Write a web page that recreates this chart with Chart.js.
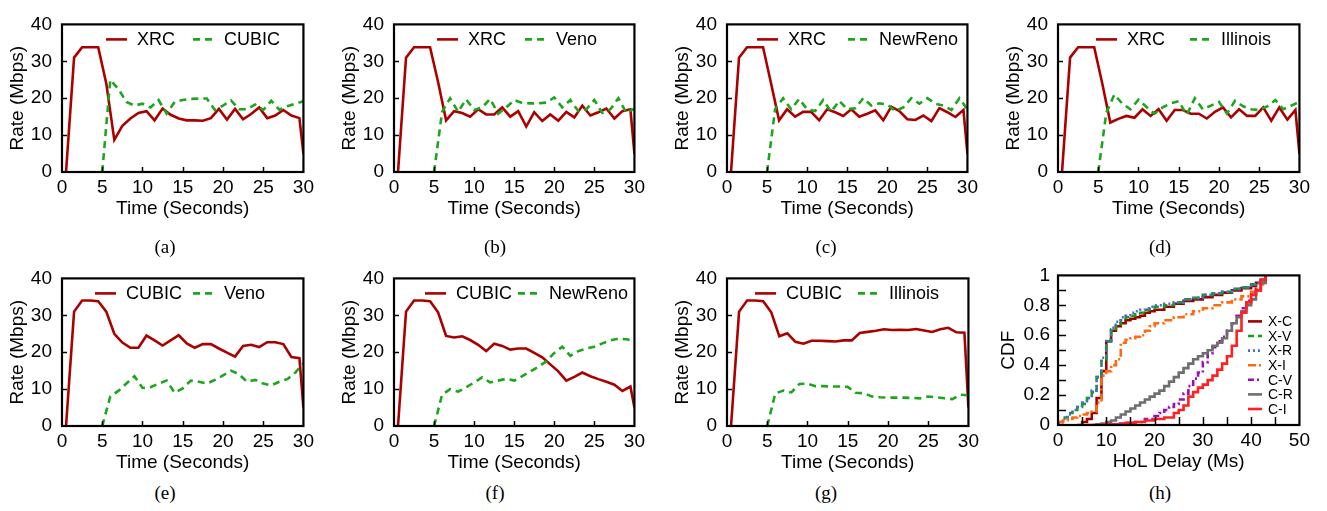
<!DOCTYPE html>
<html>
<head>
<meta charset="utf-8">
<script src="https://cdn.jsdelivr.net/npm/chart.js@4.4.1/dist/chart.umd.min.js"></script>
<style>
    body { margin: 0; background: #fff; width: 1327px; height: 511px; position: relative; overflow: hidden; }
    canvas { position: absolute; }
    .cap { position: absolute; font-family: "Liberation Serif", "Times New Roman", serif; font-size: 19px; line-height: 19px; transform: translateX(-50%); color: #000; }
</style>
</head>
<body>
<canvas id="pa"></canvas>
<canvas id="pb"></canvas>
<canvas id="pc"></canvas>
<canvas id="pd"></canvas>
<canvas id="pe"></canvas>
<canvas id="pf"></canvas>
<canvas id="pg"></canvas>
<canvas id="ph"></canvas>
<div class="cap" style="left:165px;top:237px">(a)</div>
<div class="cap" style="left:495px;top:237px">(b)</div>
<div class="cap" style="left:826px;top:237px">(c)</div>
<div class="cap" style="left:1160px;top:237px">(d)</div>
<div class="cap" style="left:165px;top:483px">(e)</div>
<div class="cap" style="left:495px;top:483px">(f)</div>
<div class="cap" style="left:826px;top:483px">(g)</div>
<div class="cap" style="left:1160px;top:483px">(h)</div>
<script>
// sample times (seconds) of the first flow and of the flow that joins at 5 s
const timeFirst = [0.5, 1.5, 2.5, 3.5, 4.5, 5.5, 6.5, 7.5, 8.5, 9.5, 10.5, 11.5, 12.5, 13.5, 14.5, 15.5,
    16.5, 17.5, 18.5, 19.5, 20.5, 21.5, 22.5, 23.5, 24.5, 25.5, 26.5, 27.5, 28.5, 29.5, 30];
const timeSecond = [5, 6, 7, 8, 9, 10, 11, 12, 13, 14, 15, 16, 17, 18, 19, 20, 21, 22, 23, 24, 25,
    26, 27, 28, 29, 30];

// (a) XRC vs CUBIC
const xrcA = [0, 31, 33.8, 33.8, 33.8, 24, 8.7, 12.5, 14.5, 16, 16.5, 14, 17.2, 15.5, 14.5, 14, 14, 13.9, 14.6, 17.1, 14.2, 17.1, 14.3, 15.7, 17.5, 14.6, 15.3, 16.8, 15.3, 14.6, 5];
const cubicA = [0, 25, 22.5, 19, 18, 18.5, 17.5, 19.5, 15.8, 19, 19.5, 19.8, 19.9, 19.9, 16.8, 18, 19.4, 17, 17, 18.3, 16.8, 19.3, 16.9, 17.8, 18.5, 19.2];
// (b) XRC vs Veno
const xrcB = [0, 31, 33.8, 33.8, 33.8, 24.4, 14, 16.5, 16, 15, 17, 15.6, 15.6, 17.5, 15, 16.5, 12.3, 16.2, 13.8, 15.6, 13.9, 16.3, 14.8, 18, 15.3, 16.2, 17.2, 14.5, 16.5, 17, 5];
const venoB = [0, 16.3, 20, 16.3, 19.7, 16.8, 17.5, 19.8, 15.8, 17.5, 19.5, 18.7, 18.6, 18.6, 18.8, 20.2, 17.5, 19.5, 16.5, 17, 19.5, 16, 17, 20, 16, 17.2];
// (c) XRC vs NewReno
const xrcC = [0, 31, 33.8, 33.8, 33.8, 24, 14, 17, 15, 16.3, 16.3, 14, 17, 16.2, 15.2, 17, 15, 15.8, 16.7, 14, 17.7, 16.5, 14.3, 14.1, 15.3, 13.8, 17.3, 16.2, 14.9, 16.8, 5];
const renoC = [0, 17, 20, 17, 19.8, 17, 16.5, 19.5, 16.3, 19.3, 17, 17.3, 20, 18, 18.6, 18.3, 16.5, 17.5, 20, 18.5, 20, 18.5, 18, 16.8, 20, 17];
// (d) XRC vs Illinois
const xrcD = [0, 31, 33.8, 33.8, 33.8, 24, 13.4, 14.4, 15.2, 14.7, 17, 15.2, 17, 13.9, 16.8, 16.8, 15.8, 15.8, 14.5, 16.3, 17.5, 14.8, 17, 15.2, 15.2, 17.5, 13.9, 17.5, 14.2, 16.8, 5];
const illinoisD = [0, 16, 21, 18.5, 17, 19.6, 17.6, 15.8, 17.5, 18.6, 19.2, 15.5, 20, 17, 18, 19, 15.8, 19.3, 17.8, 17, 16.8, 17.8, 19.5, 17, 18, 19];
// (e) CUBIC vs Veno
const cubicE = [0, 31, 34, 34, 33.8, 31, 25, 22.6, 21.2, 21.2, 24.5, 23.2, 21.8, 23.2, 24.6, 22.4, 21.2, 22.2, 22.2, 21, 19.9, 18.8, 21.7, 22, 21.4, 22.7, 22.7, 22.2, 18.7, 18.4, 5];
const venoE = [0, 8, 9.5, 11.5, 13.5, 10.3, 10.5, 11.5, 12.3, 9, 10.2, 12.3, 12, 11.5, 12.5, 13.7, 15, 14, 12, 12.5, 11.5, 11, 12, 12.7, 14.5, 17];
// (f) CUBIC vs NewReno
const cubicF = [0, 31, 34, 34, 33.8, 30.8, 24.4, 24, 24.3, 23.3, 22, 20.3, 22.3, 21.7, 20.7, 21, 21, 19.8, 18.6, 16.7, 14.8, 12.3, 13.3, 14.5, 13.5, 12.7, 12, 11.2, 9.5, 10.7, 5];
const renoF = [0, 8.5, 10, 9.3, 10.5, 11.8, 13.2, 11.8, 12.3, 12.8, 12.3, 13.5, 14.8, 16, 17.5, 19.8, 21.5, 19, 20.3, 21, 21.5, 22.4, 23.2, 23.7, 23.5, 23];
// (g) CUBIC vs Illinois
const cubicG = [0, 31, 34, 34, 33.8, 30.8, 24.3, 25.1, 22.8, 22.3, 23.1, 23.1, 23, 22.9, 23.2, 23.2, 25.2, 25.5, 25.8, 26.2, 26, 26.1, 26, 26.3, 25.9, 25.5, 26.2, 26.6, 25.4, 25.3, 5];
const illinoisG = [0, 8.8, 9.6, 9.1, 11.4, 11.5, 10.8, 10.8, 10.7, 10.7, 10.6, 9, 8.9, 8, 7.8, 7.7, 7.7, 7.7, 7.6, 7.5, 8, 7.8, 7.5, 7.3, 8.5, 8.3];

// (h) CDF of head-of-line delay (ms)
const cdfLabels = ['X-C', 'X-V', 'X-R', 'X-I', 'C-V', 'C-R', 'C-I'];
const delayXC = [4, 5, 6, 7, 8, 9, 10, 11, 12, 13, 14, 15, 16, 17, 18, 19, 20, 22, 24, 26, 28, 30, 32, 34, 36, 38, 40, 41, 42, 43];
const cdfXC = [0, 0.02, 0.04, 0.08, 0.18, 0.36, 0.56, 0.63, 0.66, 0.68, 0.70, 0.71, 0.72, 0.73, 0.75, 0.76, 0.77, 0.79, 0.81, 0.83, 0.84, 0.855, 0.87, 0.885, 0.90, 0.915, 0.93, 0.95, 0.97, 1];
const delayXV = [0, 1, 2, 3, 4, 5, 6, 7, 8, 9, 10, 11, 12, 13, 14, 15, 16, 17, 18, 19, 20, 22, 24, 26, 28, 30, 32, 34, 36, 38, 40, 41, 42, 43];
const cdfXV = [0.02, 0.05, 0.08, 0.10, 0.12, 0.14, 0.18, 0.22, 0.32, 0.44, 0.56, 0.64, 0.67, 0.70, 0.72, 0.73, 0.74, 0.75, 0.77, 0.78, 0.79, 0.80, 0.82, 0.84, 0.85, 0.87, 0.88, 0.89, 0.91, 0.92, 0.94, 0.95, 0.97, 1];
const delayXR = [0, 1, 2, 3, 4, 5, 6, 7, 8, 9, 10, 11, 12, 13, 14, 15, 16, 17, 18, 19, 20, 22, 24, 26, 28, 30, 32, 34, 36, 38, 40, 41, 42, 43];
const cdfXR = [0.01, 0.04, 0.07, 0.10, 0.12, 0.15, 0.18, 0.23, 0.32, 0.45, 0.57, 0.65, 0.69, 0.72, 0.73, 0.75, 0.76, 0.77, 0.78, 0.79, 0.80, 0.81, 0.82, 0.84, 0.85, 0.87, 0.88, 0.89, 0.91, 0.92, 0.94, 0.95, 0.96, 1];
const delayXI = [0, 1, 2, 3, 4, 5, 6, 7, 8, 9, 10, 11, 12, 13, 14, 15, 16, 17, 18, 19, 20, 22, 24, 26, 28, 30, 32, 34, 36, 38, 40, 41, 42, 43];
const cdfXI = [0.02, 0.03, 0.04, 0.05, 0.06, 0.07, 0.08, 0.09, 0.15, 0.33, 0.36, 0.40, 0.44, 0.55, 0.57, 0.58, 0.59, 0.60, 0.63, 0.66, 0.68, 0.70, 0.72, 0.74, 0.76, 0.78, 0.80, 0.82, 0.84, 0.86, 0.89, 0.91, 0.94, 1];
const delayCV = [10, 12, 14, 16, 18, 20, 21, 22, 23, 24, 25, 26, 27, 28, 29, 30, 31, 32, 33, 34, 35, 36, 37, 38, 39, 40, 41, 42, 43];
const cdfCV = [0, 0.01, 0.015, 0.02, 0.04, 0.06, 0.08, 0.10, 0.12, 0.14, 0.17, 0.21, 0.26, 0.31, 0.35, 0.42, 0.48, 0.52, 0.56, 0.59, 0.63, 0.68, 0.73, 0.78, 0.83, 0.87, 0.91, 0.96, 1];
const delayCR = [7, 8, 9, 10, 11, 12, 13, 14, 15, 16, 17, 18, 19, 20, 21, 22, 23, 24, 25, 26, 27, 28, 29, 30, 31, 32, 33, 34, 35, 36, 37, 38, 39, 40, 41, 42, 43];
const cdfCR = [0, 0.005, 0.01, 0.02, 0.03, 0.05, 0.07, 0.09, 0.11, 0.13, 0.15, 0.17, 0.19, 0.21, 0.23, 0.26, 0.29, 0.32, 0.35, 0.38, 0.41, 0.44, 0.46, 0.48, 0.50, 0.53, 0.55, 0.58, 0.63, 0.68, 0.72, 0.76, 0.80, 0.84, 0.90, 0.95, 1];
const delayCI = [6, 10, 14, 16, 18, 20, 22, 24, 25, 26, 27, 28, 29, 30, 31, 32, 33, 34, 35, 36, 37, 38, 39, 40, 41, 42, 43];
const cdfCI = [0, 0.005, 0.015, 0.02, 0.03, 0.04, 0.05, 0.08, 0.10, 0.13, 0.19, 0.22, 0.25, 0.27, 0.30, 0.33, 0.37, 0.41, 0.46, 0.53, 0.63, 0.75, 0.82, 0.87, 0.90, 0.97, 1];

const FONT = '"Liberation Sans", Arial, Helvetica, sans-serif';
const RED = '#aa0000';
const GREEN = '#1ea51e';

// black frame plus short inward tick marks, gnuplot style
const framePlugin = {
    id: 'frame',
    afterDatasetsDraw(chart, args, o) {
        const { ctx, chartArea: a, scales: { x, y } } = chart;
        ctx.save();
        ctx.strokeStyle = '#000';
        ctx.lineWidth = 1.5;
        ctx.beginPath();
        for (let v = x.min + o.xStep; v < x.max - 1e-9; v += o.xStep) {
            const px = Math.round(x.getPixelForValue(v)) + 0.5;
            ctx.moveTo(px, a.bottom);
            ctx.lineTo(px, a.bottom - o.len);
        }
        for (let v = y.min + o.yStep; v < y.max - 1e-9; v += o.yStep) {
            const py = Math.round(y.getPixelForValue(v)) + 0.5;
            ctx.moveTo(a.left, py);
            ctx.lineTo(a.left + o.len, py);
        }
        ctx.stroke();
        ctx.lineWidth = 2.2;
        ctx.strokeRect(a.left, a.top, a.width, a.height);
        ctx.restore();
    }
};

// key drawn inside the plot, read from the datasets
const keyPlugin = {
    id: 'key',
    afterDatasetsDraw(chart, args, o) {
        const { ctx, chartArea: a } = chart;
        ctx.save();
        ctx.font = o.font;
        ctx.textBaseline = 'middle';
        ctx.textAlign = 'left';
        chart.data.datasets.forEach((ds, i) => {
            const x = a.left + o.x + (o.vertical ? 0 : i * o.col);
            const y = a.top + o.y + (o.vertical ? i * o.row : 0);
            ctx.strokeStyle = ds.borderColor;
            ctx.lineWidth = ds.borderWidth;
            ctx.setLineDash(ds.borderDash || []);
            ctx.beginPath();
            ctx.moveTo(x, y);
            ctx.lineTo(x + o.len, y);
            ctx.stroke();
            ctx.setLineDash([]);
            ctx.fillStyle = '#000';
            ctx.fillText(ds.label, x + o.len + o.gap, y + 1);
        });
        ctx.restore();
    }
};

function place(id, plotLeft, plotTop, plotWidth, plotHeight) {
    const el = document.getElementById(id);
    el.width = plotWidth + 74;
    el.height = plotHeight + 60;
    el.style.left = (plotLeft - 62) + 'px';
    el.style.top = (plotTop - 12) + 'px';
    return el;
}

// drop a trailing ".0" so the CDF axis reads 0, 0.2 ... 1
const plainNumber = (v) => String(Number(Number(v).toFixed(2)));

function axes(xMax, xStep, xTitle, yMax, yStep, yTitle, yTitlePad, yTickPad) {
    return {
        x: {
            type: 'linear', min: 0, max: xMax,
            afterFit: (s) => { s.height = 48; },
            ticks: { stepSize: xStep, color: '#000', padding: 4, maxRotation: 0, callback: plainNumber, font: { family: FONT, size: 19 } },
            grid: { display: false, drawTicks: false },
            border: { display: false },
            title: { display: true, text: xTitle, color: '#000', padding: { top: 0, bottom: 0 }, font: { family: FONT, size: 19 } }
        },
        y: {
            type: 'linear', min: 0, max: yMax,
            afterFit: (s) => { s.width = 62; },
            ticks: { stepSize: yStep, color: '#000', padding: yTickPad, callback: plainNumber, font: { family: FONT, size: 19 } },
            grid: { display: false, drawTicks: false },
            border: { display: false },
            title: { display: true, text: yTitle, color: '#000', padding: { top: yTitlePad, bottom: 0 }, font: { family: FONT, size: 19 } }
        }
    };
}

function rateChart(id, box, names, firstVals, secondVals, key) {
    const el = place(id, ...box);
    new Chart(el, {
        type: 'line',
        data: {
            datasets: [
                {
                    label: names[0],
                    data: timeFirst.map((t, i) => ({ x: t, y: firstVals[i] })),
                    borderColor: RED, borderWidth: 2.6, pointRadius: 0, tension: 0, order: 0
                },
                {
                    label: names[1],
                    data: timeSecond.map((t, i) => ({ x: t, y: secondVals[i] })),
                    borderColor: GREEN, borderWidth: 2.6, borderDash: [7, 5], pointRadius: 0, tension: 0, order: -1
                }
            ]
        },
        options: {
            responsive: false,
            animation: false,
            events: [],
            layout: { padding: { top: 12, right: 12, left: 0, bottom: 0 } },
            scales: axes(30, 5, 'Time (Seconds)', 40, 10, 'Rate (Mbps)', 6, 10),
            plugins: {
                legend: { display: false },
                tooltip: { enabled: false },
                frame: { xStep: 5, yStep: 10, len: 5 },
                key: { x: key[0], y: 15, col: key[1], len: 21, gap: 10, font: '18px ' + FONT }
            }
        },
        plugins: [framePlugin, keyPlugin]
    });
}

rateChart('pa', [62, 15, 244, 157], ['XRC', 'CUBIC'], xrcA, cubicA, [44, 87]);
rateChart('pb', [394, 15, 243, 157], ['XRC', 'Veno'], xrcB, venoB, [43, 88]);
rateChart('pc', [727, 15, 243, 157], ['XRC', 'NewReno'], xrcC, renoC, [30, 91]);
rateChart('pd', [1058, 15, 244, 157], ['XRC', 'Illinois'], xrcD, illinoisD, [38, 94]);
rateChart('pe', [62, 269, 244, 157], ['CUBIC', 'Veno'], cubicE, venoE, [33, 98]);
rateChart('pf', [394, 269, 243, 157], ['CUBIC', 'NewReno'], cubicF, renoF, [31, 93]);
rateChart('pg', [727, 269, 244, 157], ['CUBIC', 'Illinois'], cubicG, illinoisG, [28, 103]);

// (h)
const cdfDelays = [delayXC, delayXV, delayXR, delayXI, delayCV, delayCR, delayCI];
const cdfValues = [cdfXC, cdfXV, cdfXR, cdfXI, cdfCV, cdfCR, cdfCI];
const cdfStyles = [
    { color: '#a00000', dash: [] },
    { color: '#11a011', dash: [6, 4] },
    { color: '#4a6ae0', dash: [2, 3] },
    { color: '#ff6a10', dash: [8, 3, 2, 3] },
    { color: '#9a10b0', dash: [6, 3, 2, 3] },
    { color: '#6e6e6e', dash: [] },
    { color: '#ff2020', dash: [] }
];

new Chart(place('ph', 1058, 268, 244, 157), {
    type: 'line',
    data: {
        datasets: cdfLabels.map((name, k) => ({
            label: name,
            data: cdfDelays[k].map((d, i) => ({ x: d, y: cdfValues[k][i] })),
            borderColor: cdfStyles[k].color,
            borderDash: cdfStyles[k].dash,
            borderWidth: 2.6,
            stepped: true,
            pointRadius: 0,
            order: -k
        }))
    },
    options: {
        responsive: false,
        animation: false,
        events: [],
        layout: { padding: { top: 12, right: 12, left: 0, bottom: 0 } },
        scales: axes(50, 10, 'HoL Delay (Ms)', 1, 0.2, 'CDF', 1, 8),
        plugins: {
            legend: { display: false },
            tooltip: { enabled: false },
            frame: { xStep: 5, yStep: 0.1, len: 8 },
            key: { x: 190, y: 46, row: 14.6, vertical: true, len: 14, gap: 6, font: '14px ' + FONT }
        }
    },
    plugins: [framePlugin, keyPlugin]
});
</script>
</body>
</html>
